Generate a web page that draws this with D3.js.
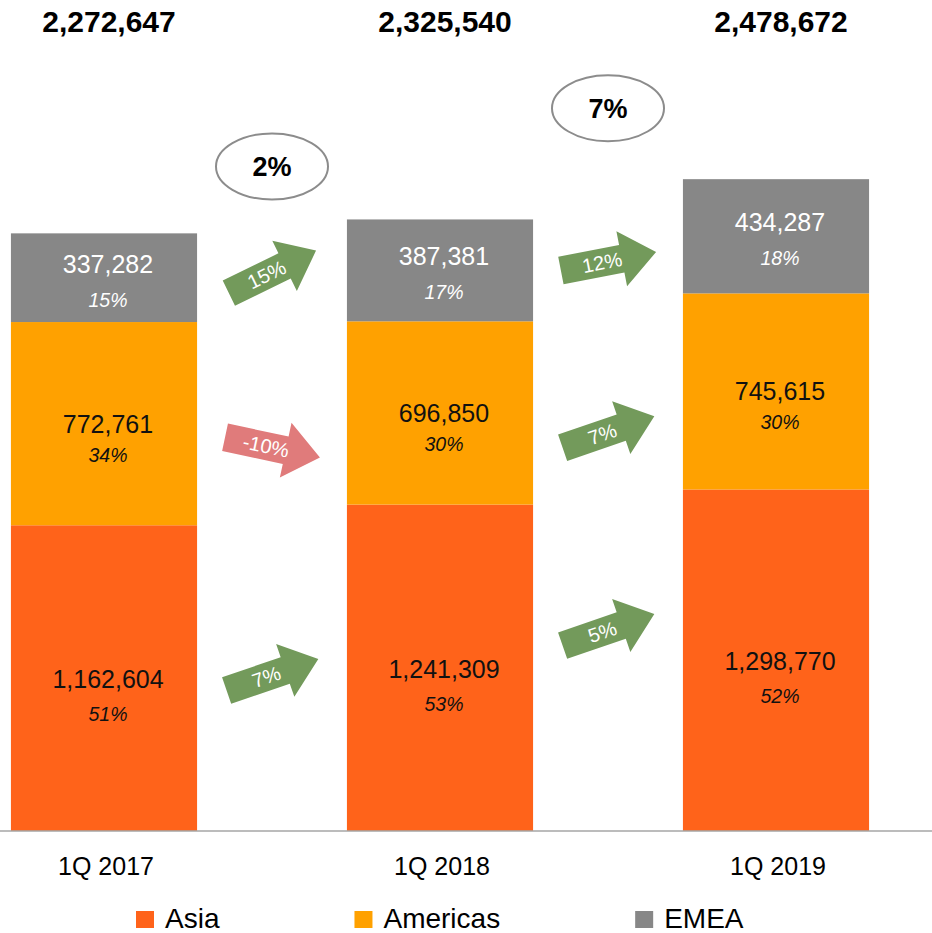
<!DOCTYPE html>
<html>
<head>
<meta charset="utf-8">
<script src="https://cdn.jsdelivr.net/npm/d3@7"></script>
<style>
  body { margin: 0; background: #fff; }
  text { font-family: "Liberation Sans", Arial, Helvetica, sans-serif; }
</style>
</head>
<body>
<div id="chart"></div>
<script>
/* DATA */
const quarters = ["1Q 2017", "1Q 2018", "1Q 2019"];
const regions = ["Asia", "Americas", "EMEA"];
const asia = [1162604, 1241309, 1298770];
const americas = [772761, 696850, 745615];
const emea = [337282, 387381, 434287];
const totals = [2272647, 2325540, 2478672];
const asiaShare = ["51%", "53%", "52%"];
const americasShare = ["34%", "30%", "30%"];
const emeaShare = ["15%", "17%", "18%"];
// growth between consecutive quarters
const asiaGrowth = ["7%", "5%"];
const americasGrowth = ["-10%", "7%"];
const emeaGrowth = ["15%", "12%"];
const totalGrowth = ["2%", "7%"];

/* CONSTANTS */
const width = 932, height = 933, baseY = 831;
const colors = { Asia: "#FF631A", Americas: "#FFA100", EMEA: "#878787" };
// label offsets (px from segment middle) for value and share text
const labelStyle = {
  Asia: { dv: 10, dp: 43, fill: "#111" },
  Americas: { dv: 9, dp: 38, fill: "#111" },
  EMEA: { dv: -5, dp: 29, fill: "#fff" }
};
// annotation layout: arrow angle and vertical nudge, per region per gap
const arrowAngle = { Asia: [-19, -19], Americas: [12, -19], EMEA: [-26, -11] };
const arrowNudge = { Asia: [2, -34], Americas: [29, 30], EMEA: [-2, 8] };
const ellipseLift = [53, 71];

const series = { Asia: asia, Americas: americas, EMEA: emea };
const shares = { Asia: asiaShare, Americas: americasShare, EMEA: emeaShare };
const growth = { Asia: asiaGrowth, Americas: americasGrowth, EMEA: emeaGrowth };

const rows = quarters.map((q, i) => ({ quarter: q, Asia: asia[i], Americas: americas[i], EMEA: emea[i] }));
const stacked = d3.stack().keys(regions)(rows);

/* SCALES */
const xScale = d3.scaleBand()
  .domain(quarters)
  .range([-64, 944])
  .paddingInner(0.446)
  .paddingOuter(0.223);

const yScale = d3.scaleLinear()
  .domain([0, 3160000])
  .range([baseY, 0]);

const svg = d3.select("#chart").append("svg")
  .attr("width", width)
  .attr("height", height);

/* BARS */
svg.selectAll("g.layer")
  .data(stacked)
  .join("g")
  .attr("class", "layer")
  .attr("fill", d => colors[d.key])
  .selectAll("rect")
  .data(d => d)
  .join("rect")
  .attr("x", d => xScale(d.data.quarter))
  .attr("y", d => yScale(d[1]))
  .attr("width", xScale.bandwidth())
  .attr("height", d => yScale(d[0]) - yScale(d[1]));

// axis line
svg.append("line")
  .attr("x1", 0).attr("x2", width)
  .attr("y1", baseY).attr("y2", baseY)
  .attr("stroke", "#a6a6a6")
  .attr("stroke-width", 1.5);

/* SEGMENT LABELS */
const cx = q => xScale(q) + xScale.bandwidth() / 2;
stacked.forEach(layer => {
  const st = labelStyle[layer.key];
  const g = svg.append("g");
  g.selectAll("text.val")
    .data(layer)
    .join("text")
    .attr("class", "val")
    .attr("x", d => cx(d.data.quarter) + 4)
    .attr("y", d => (yScale(d[0]) + yScale(d[1])) / 2 + st.dv)
    .attr("text-anchor", "middle")
    .attr("font-size", 25)
    .attr("fill", st.fill)
    .text(d => d3.format(",")(d[1] - d[0]));
  g.selectAll("text.pct")
    .data(layer)
    .join("text")
    .attr("class", "pct")
    .attr("x", d => cx(d.data.quarter) + 4)
    .attr("y", d => (yScale(d[0]) + yScale(d[1])) / 2 + st.dp)
    .attr("text-anchor", "middle")
    .attr("font-size", 19.5)
    .attr("font-style", "italic")
    .attr("fill", st.fill)
    .text((d, i) => shares[layer.key][i]);
});

/* TOTALS */
svg.selectAll("text.total")
  .data(totals)
  .join("text")
  .attr("class", "total")
  .attr("x", (d, i) => cx(quarters[i]) + 5)
  .attr("y", 32)
  .attr("text-anchor", "middle")
  .attr("font-size", 30)
  .attr("font-weight", "bold")
  .attr("fill", "#000")
  .text(d => d3.format(",")(d));

/* CATEGORY LABELS */
svg.selectAll("text.cat")
  .data(quarters)
  .join("text")
  .attr("class", "cat")
  .attr("x", d => cx(d) + 2)
  .attr("y", 875)
  .attr("text-anchor", "middle")
  .attr("font-size", 25)
  .attr("fill", "#000")
  .text(d => d);

/* GROWTH ARROWS */
const gapX = i => (xScale(quarters[i]) + xScale.bandwidth() + xScale(quarters[i + 1])) / 2;
const arrowPath = "M-48,-14 L14,-14 L14,-28 L49,0 L14,28 L14,14 L-48,14 Z";

stacked.forEach(layer => {
  const key = layer.key;
  growth[key].forEach((g, i) => {
    const m0 = (yScale(layer[i][0]) + yScale(layer[i][1])) / 2;
    const m1 = (yScale(layer[i + 1][0]) + yScale(layer[i + 1][1])) / 2;
    const y = (m0 + m1) / 2 + arrowNudge[key][i];
    const grp = svg.append("g")
      .attr("transform", `translate(${gapX(i)},${y}) rotate(${arrowAngle[key][i]})`);
    grp.append("path")
      .attr("d", arrowPath)
      .attr("fill", g.startsWith("-") ? "#E07B7B" : "#739A5B");
    grp.append("text")
      .attr("x", -6)
      .attr("y", 7)
      .attr("text-anchor", "middle")
      .attr("font-size", 20)
      .attr("fill", "#fff")
      .text(g);
  });
});

/* TOTAL GROWTH ELLIPSES */
totalGrowth.forEach((g, i) => {
  const top = yScale(Math.max(totals[i], totals[i + 1]));
  const grp = svg.append("g")
    .attr("transform", `translate(${gapX(i)},${top - ellipseLift[i]})`);
  grp.append("ellipse")
    .attr("rx", 56)
    .attr("ry", 33)
    .attr("fill", "#fff")
    .attr("stroke", "#8c8c8c")
    .attr("stroke-width", 2);
  grp.append("text")
    .attr("y", 10)
    .attr("text-anchor", "middle")
    .attr("font-size", 27)
    .attr("font-weight", "bold")
    .attr("fill", "#000")
    .text(g);
});

/* LEGEND */
const legend = svg.append("g");
let lx = 136;
regions.forEach(r => {
  legend.append("rect")
    .attr("x", lx).attr("y", 911)
    .attr("width", 18).attr("height", 17)
    .attr("fill", colors[r]);
  const t = legend.append("text")
    .attr("x", lx + 29)
    .attr("y", 928)
    .attr("font-size", 28)
    .attr("fill", "#000")
    .text(r);
  lx += 29 + t.node().getComputedTextLength() + 135;
});
</script>
</body>
</html>
